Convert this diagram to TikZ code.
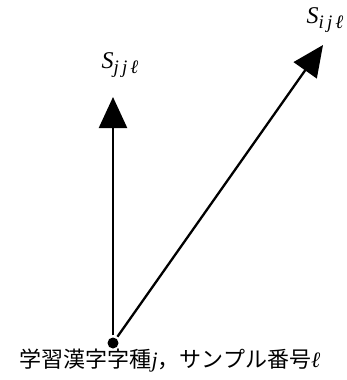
\documentclass[tikz,border=0pt]{standalone}
\usepackage{fontspec}
\newfontfamily\jpfont{Noto Sans CJK JP}
\newfontfamily\tmfont{Liberation Serif}
\usepackage{tikz}
\usetikzlibrary{arrows.meta,positioning}
\newcommand{\bigtxt}{\fontsize{22}{26}\selectfont}
\newcommand{\veclab}[2]{{\fontsize{24}{26}\selectfont\tmfont\itshape #1}\raisebox{-5pt}{\fontsize{19}{20}\selectfont\tmfont\itshape #2}}

\begin{document}
\begin{tikzpicture}[
  x=1pt, y=-1pt,
  vec/.style={-{Triangle[length=31pt,width=28pt]}, line width=2.3pt, shorten <=2pt},
  lbl/.style={inner sep=0pt},
  dotnode/.style={circle, fill, inner sep=0pt, minimum size=11pt}
]
\useasboundingbox (0,0) rectangle (346,380);
% origin and vector tips
\node[dotnode] (org) at (113,343) {};
\coordinate (tjj) at (113,97);
\coordinate (tij) at (323,45);
% labels
\node[lbl] (sjj) at (120,65) {\veclab{S}{j\,j\,ℓ}};
\node[lbl] (sij) at (325,20) {\veclab{S}{i\,j\,ℓ}};
\node[lbl] (cap) at (170,361) {\bigtxt{\jpfont 学習漢字字種}{\tmfont\itshape j}{\jpfont ，サンプル番号}{\tmfont\itshape ℓ}};
\draw[vec] (org) -- (tjj);
\draw[vec] (org) -- (tij);
\end{tikzpicture}
\end{document}
